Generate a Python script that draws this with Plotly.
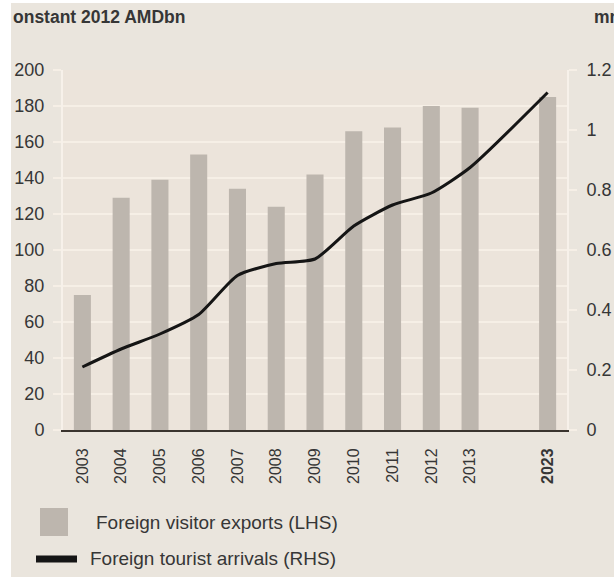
import plotly.graph_objects as go

# Data
categories = ["2003", "2004", "2005", "2006", "2007", "2008", "2009",
              "2010", "2011", "2012", "2013", " ", "2023"]
years = ["2003", "2004", "2005", "2006", "2007", "2008", "2009",
         "2010", "2011", "2012", "2013", "2023"]
visitor_exports = [75, 129, 139, 153, 134, 124, 142, 166, 168, 180, 179, 185]
tourist_arrivals = [0.21, 0.27, 0.32, 0.385, 0.515, 0.555, 0.57, 0.68, 0.75, 0.79, 0.875, 1.125]
tick_labels = ["2003", "2004", "2005", "2006", "2007", "2008", "2009",
               "2010", "2011", "2012", "2013", "", "<b>2023</b>"]

FONT = "Liberation Sans, Arial, sans-serif"
TXT = "#363636"
BAR = "#bdb6ae"
GRID = "#f6efe6"

fig = go.Figure()
fig.add_trace(go.Bar(x=years, y=visitor_exports, marker_color=BAR,
                     marker_line_width=0, name="Foreign visitor exports (LHS)"))
fig.add_trace(go.Scatter(x=years, y=tourist_arrivals, yaxis="y2", mode="lines",
                         line=dict(color="#151515", width=3, shape="spline", smoothing=0.6),
                         name="Foreign tourist arrivals (RHS)"))

fig.update_layout(
    width=614, height=578,
    margin=dict(l=63, r=47, t=70, b=148, autoexpand=False),
    paper_bgcolor="#eae5dd",
    plot_bgcolor="#ece4db",
    showlegend=False,
    bargap=0.56,
    font=dict(family=FONT, color=TXT, size=15),
    xaxis=dict(type="category", categoryorder="array", categoryarray=categories,
               tickmode="array", tickvals=categories, ticktext=tick_labels,
               tickangle=-90, showgrid=False, ticks="", showline=True,
               linecolor="#3a342e", linewidth=2, ticklabelstandoff=10,
               tickfont=dict(size=16, color=TXT), fixedrange=True, automargin=False),
    yaxis=dict(range=[0, 200], tickmode="array", tickvals=list(range(0, 201, 20)),
               showgrid=True, gridcolor=GRID, gridwidth=2, zeroline=False,
               showline=True, linecolor="#f7f1ea", linewidth=2,
               ticks="outside", ticklen=8, tickwidth=2, tickcolor=GRID,
               ticklabelstandoff=5, tickfont=dict(size=18, color=TXT), automargin=False),
    yaxis2=dict(range=[0, 1.2], overlaying="y", side="right",
                tickmode="array", tickvals=[0, 0.2, 0.4, 0.6, 0.8, 1.0, 1.2],
                ticktext=["0", "0.2", "0.4", "0.6", "0.8", "1", "1.2"],
                showgrid=False, zeroline=False, showline=True,
                linecolor="#f7f1ea", linewidth=2,
                ticks="outside", ticklen=8, tickwidth=2, tickcolor=GRID,
                ticklabelstandoff=6, tickfont=dict(size=18, color=TXT), automargin=False),
)

def px_x(p):
    return (p - 63) / 504.0

def px_y(p):
    return (430 - p) / 360.0

shapes = [
    # legend square
    dict(type="rect", xref="paper", yref="paper", x0=px_x(40), x1=px_x(68),
         y0=px_y(536), y1=px_y(508), fillcolor=BAR, line=dict(width=0)),
    # legend line
    dict(type="line", xref="paper", yref="paper", x0=px_x(36), x1=px_x(77),
         y0=px_y(559), y1=px_y(559), line=dict(color="#151515", width=7)),
    # white margins of the original image
    dict(type="rect", xref="paper", yref="paper", x0=px_x(-5), x1=px_x(11),
         y0=px_y(590), y1=px_y(-10), fillcolor="white", line=dict(width=0), layer="above"),
    dict(type="rect", xref="paper", yref="paper", x0=px_x(-5), x1=px_x(620),
         y0=px_y(3), y1=px_y(-10), fillcolor="white", line=dict(width=0), layer="above"),
    dict(type="rect", xref="paper", yref="paper", x0=px_x(-5), x1=px_x(620),
         y0=px_y(590), y1=px_y(577), fillcolor="white", line=dict(width=0), layer="above"),
]
fig.update_layout(shapes=shapes)

annotations = [
    dict(text="<b>onstant 2012 AMDbn</b>", x=px_x(11), y=px_y(17), xref="paper", yref="paper",
         xanchor="left", yanchor="middle", showarrow=False,
         font=dict(size=17.5, color=TXT, family=FONT)),
    dict(text="<b>mn</b>", x=px_x(592), y=px_y(17), xref="paper", yref="paper",
         xanchor="left", yanchor="middle", showarrow=False,
         font=dict(size=17.5, color=TXT, family=FONT)),
    dict(text="Foreign visitor exports (LHS)", x=px_x(94), y=px_y(522), xref="paper", yref="paper",
         xanchor="left", yanchor="middle", showarrow=False,
         font=dict(size=19, color=TXT, family=FONT)),
    dict(text="Foreign tourist arrivals (RHS)", x=px_x(88), y=px_y(558), xref="paper", yref="paper",
         xanchor="left", yanchor="middle", showarrow=False,
         font=dict(size=19, color=TXT, family=FONT)),
]
fig.update_layout(annotations=annotations)

fig.write_html("out.html")
